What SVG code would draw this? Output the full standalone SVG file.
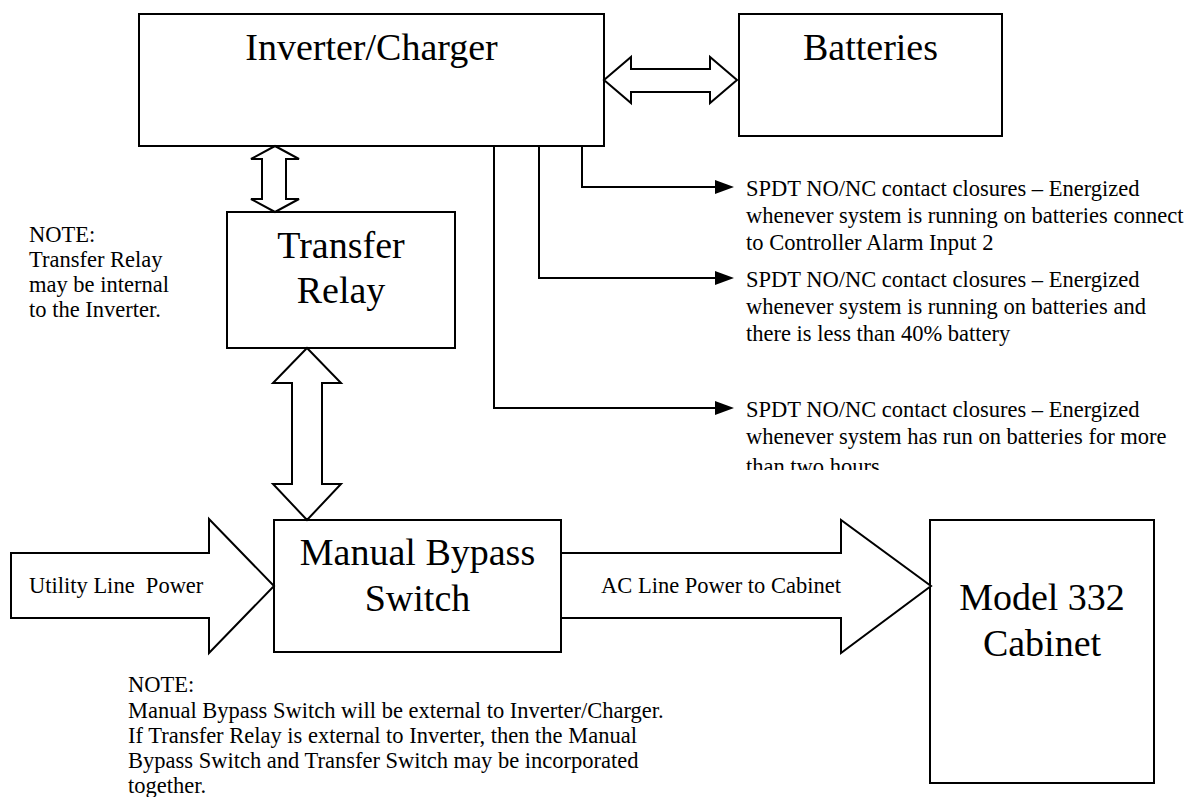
<svg xmlns="http://www.w3.org/2000/svg" width="1198" height="797" viewBox="0 0 1198 797">
<style>
.box{fill:#fff;stroke:#000;stroke-width:2}
.big{font-family:"Liberation Serif","Times New Roman",serif;font-size:38px;fill:#000;text-anchor:middle}
.sm{font-family:"Liberation Serif","Times New Roman",serif;font-size:22.5px;fill:#000;white-space:pre}
.ln{fill:none;stroke:#000;stroke-width:2}
.ah{fill:#000;stroke:none}
</style>
<defs>
<clipPath id="clip3"><rect x="740" y="395" width="458" height="75"/></clipPath>
</defs>
<rect width="1198" height="797" fill="#fff"/>
<g id="inverter">
<rect class="box" x="139" y="14" width="465" height="132"/>
<text class="big" x="371.5" y="60">Inverter/Charger</text>
</g>
<g id="batteries">
<rect class="box" x="739" y="14" width="263" height="122"/>
<text class="big" x="870.5" y="60">Batteries</text>
</g>
<g id="transfer-relay">
<rect class="box" x="227" y="212" width="228" height="136"/>
<text class="big" x="341" y="258">Transfer</text>
<text class="big" x="341" y="303">Relay</text>
</g>
<g id="manual-bypass">
<rect class="box" x="274" y="520" width="287" height="132"/>
<text class="big" x="417.5" y="565">Manual Bypass</text>
<text class="big" x="417.5" y="611">Switch</text>
</g>
<g id="cabinet">
<rect class="box" x="930" y="520" width="224" height="263"/>
<text class="big" x="1042" y="610">Model 332</text>
<text class="big" x="1042" y="656">Cabinet</text>
</g>
<g id="connectors">
<polygon class="box" points="604,80 631,57 631,69 710,69 710,57 737,80 710,103 710,92 631,92 631,103"/>
<polygon class="box" points="275,146 299,159 286,159 286,199 299,199 275,212 251,199 262,199 262,159 251,159"/>
<polygon class="box" points="307,348 341,383 322,383 322,484 341,484 307,520 273,484 292,484 292,383 273,383"/>
<polygon class="box" points="11,553 209,553 209,519 274,586 209,653 209,618 11,618"/>
<polygon class="box" points="561,553 841,553 841,520 931,586 841,653 841,618 561,618"/>
<polyline class="ln" points="582,146 582,187 718,187"/>
<polyline class="ln" points="539,146 539,278 718,278"/>
<polyline class="ln" points="494,146 494,408 718,408"/>
<polygon class="ah" points="715,180 734,187 715,194"/>
<polygon class="ah" points="715,271 734,278 715,285"/>
<polygon class="ah" points="715,401 734,408 715,415"/>
</g>
<g id="labels">
<text class="sm" x="29" y="593">Utility Line  Power</text>
<text class="sm" x="601" y="593">AC Line Power to Cabinet</text>
</g>
<g id="note-relay">
<text class="sm" x="29" y="242">NOTE:</text>
<text class="sm" x="29" y="267">Transfer Relay</text>
<text class="sm" x="29" y="292">may be internal</text>
<text class="sm" x="29" y="317">to the Inverter.</text>
</g>
<g id="spdt1">
<text class="sm" x="746" y="196">SPDT NO/NC contact closures – Energized</text>
<text class="sm" x="746" y="223">whenever system is running on batteries connect</text>
<text class="sm" x="746" y="250">to Controller Alarm Input 2</text>
</g>
<g id="spdt2">
<text class="sm" x="746" y="287">SPDT NO/NC contact closures – Energized</text>
<text class="sm" x="746" y="314">whenever system is running on batteries and</text>
<text class="sm" x="746" y="341">there is less than 40% battery</text>
</g>
<g id="spdt3" clip-path="url(#clip3)">
<text class="sm" x="746" y="417">SPDT NO/NC contact closures – Energized</text>
<text class="sm" x="746" y="444">whenever system has run on batteries for more</text>
<text class="sm" x="746" y="474">than two hours</text>
</g>
<g id="note-bypass">
<text class="sm" x="128" y="692">NOTE:</text>
<text class="sm" x="128" y="718">Manual Bypass Switch will be external to Inverter/Charger.</text>
<text class="sm" x="128" y="743">If Transfer Relay is external to Inverter, then the Manual</text>
<text class="sm" x="128" y="768">Bypass Switch and Transfer Switch may be incorporated</text>
<text class="sm" x="128" y="793">together.</text>
</g>
</svg>
